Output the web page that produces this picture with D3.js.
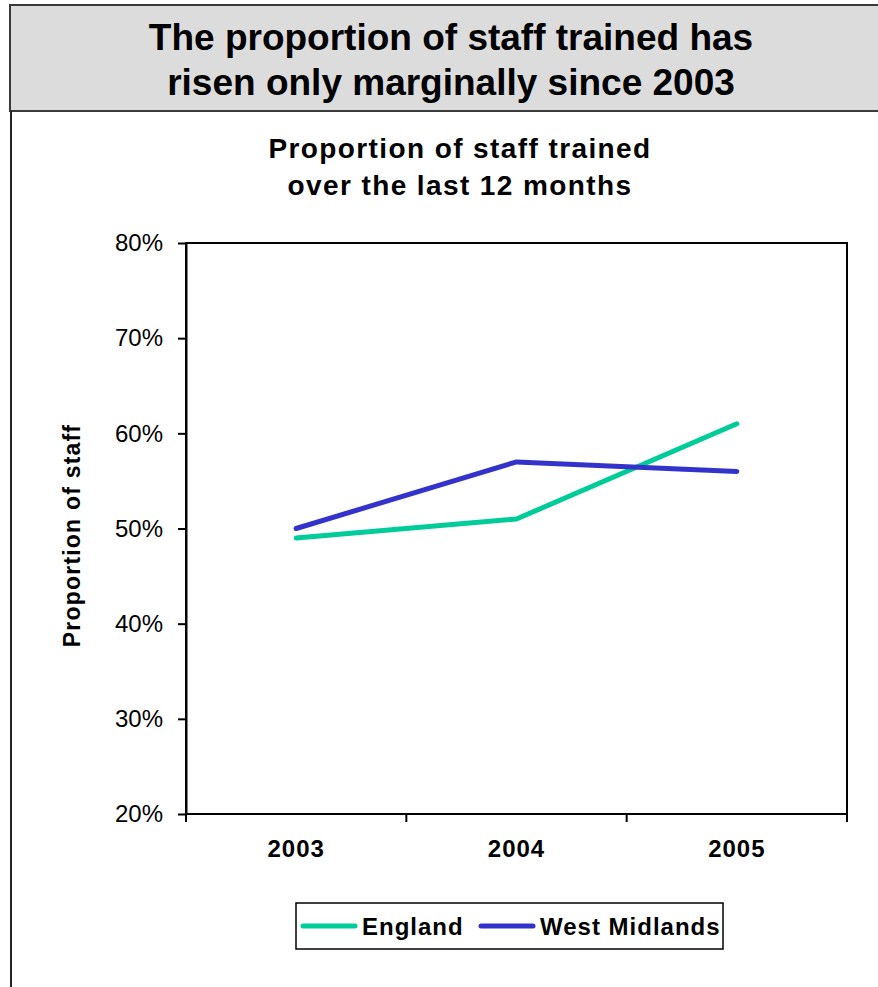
<!DOCTYPE html>
<html>
<head>
<meta charset="utf-8">
<script src="https://cdn.jsdelivr.net/npm/d3@7"></script>
<style>
  html, body { margin: 0; padding: 0; background: #ffffff; }
  svg { display: block; font-family: "Liberation Sans", Arial, Helvetica, sans-serif; }
</style>
</head>
<body>
<svg id="chart" width="878" height="987"></svg>
<script>
// Survey years and the share of staff trained in each (fractions)
const years = ["2003", "2004", "2005"];
const england = [0.49, 0.51, 0.61];
const westMidlands = [0.50, 0.57, 0.56];
const seriesNames = ["England", "West Midlands"];
const seriesColors = ["#00CC99", "#3333CC"];
const yTicks = [0.2, 0.3, 0.4, 0.5, 0.6, 0.7, 0.8];

const headline = ["The proportion of staff trained has", "risen only marginally since 2003"];
const chartTitle = ["Proportion of staff trained", "over the last 12 months"];
const yAxisTitle = "Proportion of staff";

const svg = d3.select("#chart");

// Headline banner
svg.append("rect")
  .attr("x", 10).attr("y", 5).attr("width", 880).attr("height", 106)
  .attr("fill", "#dcdcdc").attr("stroke", "#3a3a3a").attr("stroke-width", 2);
// Panel below the banner
svg.append("line")
  .attr("x1", 11).attr("x2", 11).attr("y1", 111).attr("y2", 990)
  .attr("stroke", "#222").attr("stroke-width", 2);

svg.append("g").selectAll("text").data(headline).join("text")
  .attr("x", 451).attr("y", (d, i) => 50 + i * 45)
  .attr("text-anchor", "middle")
  .attr("font-size", 37).attr("font-weight", "bold").attr("fill", "#000")
  .text(d => d);

// Chart title
svg.append("g").selectAll("text").data(chartTitle).join("text")
  .attr("x", 460).attr("y", (d, i) => 158 + i * 37)
  .attr("text-anchor", "middle")
  .attr("font-size", 28).attr("font-weight", "bold").attr("letter-spacing", 1.4)
  .text(d => d);

// Plot area bounds
const plotLeft = 186, plotRight = 847, plotTop = 243, plotBottom = 814;
const x = d3.scaleBand().domain(years).range([plotLeft, plotRight]);
const y = d3.scaleLinear().domain([0.2, 0.8]).range([plotBottom, plotTop]);

// Frame of the plot area
svg.append("rect")
  .attr("x", plotLeft).attr("y", plotTop)
  .attr("width", plotRight - plotLeft).attr("height", plotBottom - plotTop)
  .attr("fill", "none").attr("stroke", "#000").attr("stroke-width", 2);

// Y axis
const yAxis = svg.append("g")
  .attr("transform", `translate(${plotLeft},0)`)
  .call(d3.axisLeft(y).tickValues(yTicks).tickFormat(d3.format(".0%")).tickSize(8).tickSizeOuter(0).tickPadding(15));
yAxis.select(".domain").attr("stroke", "#000").attr("stroke-width", 2);
yAxis.selectAll(".tick line").attr("stroke", "#000").attr("stroke-width", 2);
yAxis.selectAll(".tick text")
  .attr("font-size", 24).attr("font-family", "'Liberation Sans', Arial, sans-serif").attr("fill", "#000");

// X axis: labels at band centres, tick marks at band edges
const xAxis = svg.append("g")
  .attr("transform", `translate(0,${plotBottom})`)
  .call(d3.axisBottom(x).tickSize(0).tickPadding(43));
xAxis.select(".domain").remove();
xAxis.selectAll(".tick text")
  .attr("font-size", 24).attr("font-weight", "bold").attr("letter-spacing", 1)
  .attr("font-family", "'Liberation Sans', Arial, sans-serif").attr("fill", "#000")
  .attr("dy", "0");
const edges = years.map(d => x(d)).concat([x(years[years.length - 1]) + x.bandwidth()]);
svg.append("g").selectAll("line").data(edges).join("line")
  .attr("x1", d => d).attr("x2", d => d)
  .attr("y1", plotBottom).attr("y2", plotBottom + 8)
  .attr("stroke", "#000").attr("stroke-width", 2);

// Y axis title
svg.append("text")
  .attr("transform", `translate(80,${(plotTop + plotBottom) / 2 + 7}) rotate(-90)`)
  .attr("text-anchor", "middle")
  .attr("font-size", 23).attr("font-weight", "bold").attr("letter-spacing", 1.2)
  .text(yAxisTitle);

// Series lines
const series = [england, westMidlands];
const line = d3.line()
  .x((d, i) => x(years[i]) + x.bandwidth() / 2)
  .y(d => y(d));
svg.append("g").selectAll("path").data(series).join("path")
  .attr("d", d => line(d))
  .attr("fill", "none")
  .attr("stroke", (d, i) => seriesColors[i])
  .attr("stroke-width", 5)
  .attr("stroke-linecap", "round")
  .attr("stroke-linejoin", "round");

// Legend
svg.append("rect")
  .attr("x", 296).attr("y", 903).attr("width", 427).attr("height", 46)
  .attr("fill", "#fff").attr("stroke", "#000").attr("stroke-width", 1.5);
const legendX = [303, 481];
const legend = svg.append("g").selectAll("g").data(seriesNames).join("g")
  .attr("transform", (d, i) => `translate(${legendX[i]},926)`);
legend.append("line")
  .attr("x1", 0).attr("x2", 52).attr("y1", 0).attr("y2", 0)
  .attr("stroke", (d, i) => seriesColors[i]).attr("stroke-width", 5).attr("stroke-linecap", "round");
legend.append("text")
  .attr("x", 59).attr("y", 9)
  .attr("font-size", 24).attr("font-weight", "bold").attr("letter-spacing", 1)
  .text(d => d);
</script>
</body>
</html>
